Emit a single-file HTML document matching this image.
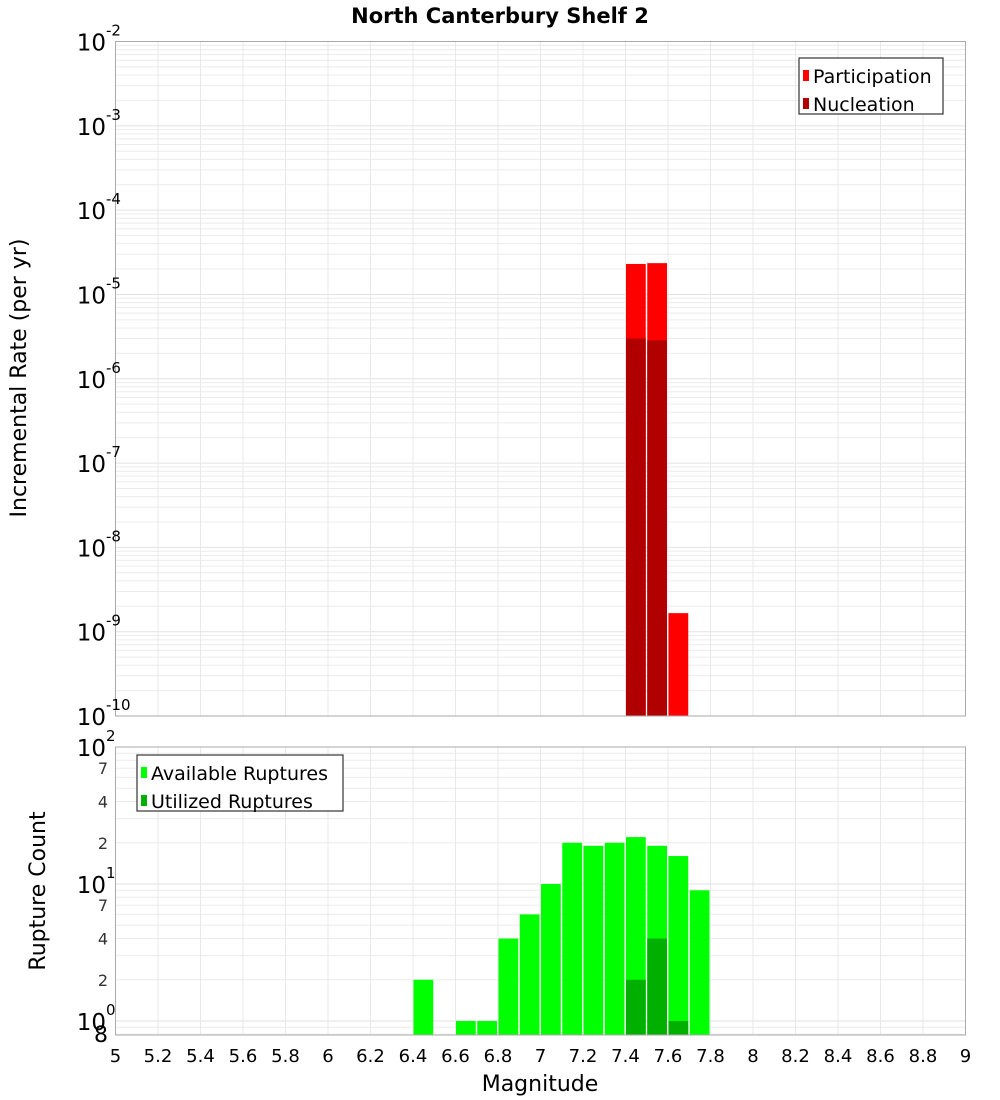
<!DOCTYPE html>
<html><head><meta charset="utf-8"><style>
html,body{margin:0;padding:0;background:#fff;}
svg{display:block;font-family:"DejaVu Sans","Liberation Sans",sans-serif;}
</style></head><body>
<svg id="c" width="1000" height="1100" viewBox="0 0 1000 1100">
<text x="500" y="23" text-anchor="middle" font-size="21" font-weight="bold">North Canterbury Shelf 2</text>
<text transform="translate(26,378) rotate(-90)" text-anchor="middle" font-size="22">Incremental Rate (per yr)</text>
<text transform="translate(45,891) rotate(-90)" text-anchor="middle" font-size="22">Rupture Count</text>
<text x="540" y="1091" text-anchor="middle" font-size="22">Magnitude</text>
<g id="gTop"></g><g id="gBot"></g><g id="gX"></g>
</svg>
<script>
const mags=[6.45,6.55,6.65,6.75,6.85,6.95,7.05,7.15,7.25,7.35,7.45,7.55,7.65,7.75];
const available=[2,0,1,1,4,6,10,20,19,20,22,19,16,9];
const utilized=[0,0,0,0,0,0,0,0,0,0,2,4,1,0];
const partMags=[7.45,7.55,7.65];
const participation=[2.3e-5,2.35e-5,1.66e-9];
const nucMags=[7.45,7.55];
const nucleation=[3.0e-6,2.85e-6];
const xTicks=["5","5.2","5.4","5.6","5.8","6","6.2","6.4","6.6","6.8","7","7.2","7.4","7.6","7.8","8","8.2","8.4","8.6","8.8","9"];
const topExp=[-2,-3,-4,-5,-6,-7,-8,-9,-10];
const botMinor=["7","4","2"];

const NS="http://www.w3.org/2000/svg";
function mk(p,t,a){const e=document.createElementNS(NS,t);for(const k in a)e.setAttribute(k,a[k]);p.appendChild(e);return e;}
const L=115.5,R=965.5;
const X=m=>L+(m-5)/4*(R-L);
const T0=41.5,T1=716;
const Yt=v=>T0+(-2-Math.log10(v))*(T1-T0)/8;
const B0=747,B1=1035,BD=137;
const Yb=v=>1021-Math.log10(v)*BD;

const gTop=document.getElementById('gTop'),gBot=document.getElementById('gBot'),gX=document.getElementById('gX');
function grid(g,y0,y1,yf,lo,hi){
  for(let d=lo;d<hi;d++)for(let k=1;k<10;k++){const v=k*Math.pow(10,d);const y=yf(v);if(y<y0-0.5||y>y1+0.5)continue;
    const l=mk(g,'line',{x1:L,x2:R,y1:y,y2:y,stroke:k==1?'#e2e2e2':'#ececec','stroke-width':1});
    
    }
  for(let i=0;i<xTicks.length;i++){const x=X(parseFloat(xTicks[i]));
    const l=mk(g,'line',{x1:x,x2:x,y1:y0,y2:y1,stroke:'#e8e8e8','stroke-width':1});
    
    }
}
grid(gTop,T0,T1,Yt,-10,-1);
grid(gBot,B0,B1,Yb,-1,2);
function bar(g,m,v,yf,ybase,col,name){const x=X(m-0.05)+0.5,w=X(m+0.05)-X(m-0.05)-1.5;const y=yf(v);
  const r=mk(g,'rect',{x:x,y:y,width:w,height:ybase-y,fill:col});
  
  }
participation.forEach((v,i)=>bar(gTop,partMags[i],v,Yt,T1,'#ff0000','participation-bar'));
nucleation.forEach((v,i)=>bar(gTop,nucMags[i],v,Yt,T1,'#b00000','nucleation-bar'));
available.forEach((v,i)=>{if(v>0)bar(gBot,mags[i],v,Yb,B1,'#00ff00','available-bar');});
utilized.forEach((v,i)=>{if(v>0)bar(gBot,mags[i],v,Yb,B1,'#00b000','utilized-bar');});
[[gTop,T0,T1],[gBot,B0,B1]].forEach(([g,a,b])=>{const f=mk(g,'rect',{x:L,y:a,width:R-L,height:b-a,fill:'none',stroke:'#aaa','stroke-width':1});
  
  });
function decLabel(g,y,e,name){const t=mk(g,'text',{x:106,y:y+9,'text-anchor':'end','font-size':23});
  t.textContent='10';
  
  
  const s=mk(g,'text',{x:106,y:y-6,'font-size':15});s.textContent=e;
  
  }
topExp.forEach(e=>decLabel(gTop,Yt(Math.pow(10,e)),String(e),'y-tick-label'));
[2,1,0].forEach(e=>decLabel(gBot,Yb(Math.pow(10,e)),String(e),'y-tick-label'));
[1,0].forEach(d=>botMinor.forEach(k=>{const y=Yb(parseFloat(k)*Math.pow(10,d));
  const t=mk(gBot,'text',{x:108,y:y+6,'text-anchor':'end','font-size':16,fill:'#333'});t.textContent=k;
  
  }));
{const t=mk(gBot,'text',{x:108,y:1042,'text-anchor':'end','font-size':22});t.textContent='8';
 
 }
xTicks.forEach(s=>{const t=mk(gX,'text',{x:X(parseFloat(s)),y:1062,'text-anchor':'middle','font-size':18});t.textContent=s;
  
  });
function legend(g,x,y,w,items){const b=mk(g,'rect',{x:x,y:y,width:w,height:56,fill:'#fff',stroke:'#333','stroke-width':1.2});
  
  
  items.forEach(([lab,col],i)=>{const yy=y+18+i*28;
   const r=mk(g,'rect',{x:x+4,y:yy-6,width:6,height:11,fill:col});
   
   
   const t=mk(g,'text',{x:x+14,y:yy+7,'font-size':19});t.textContent=lab;
   
   });}
legend(gTop,799,58,144,[['Participation','#ff0000'],['Nucleation','#b00000']]);
legend(gBot,137,755,206,[['Available Ruptures','#00ff00'],['Utilized Ruptures','#00b000']]);
</script>
</body></html>
